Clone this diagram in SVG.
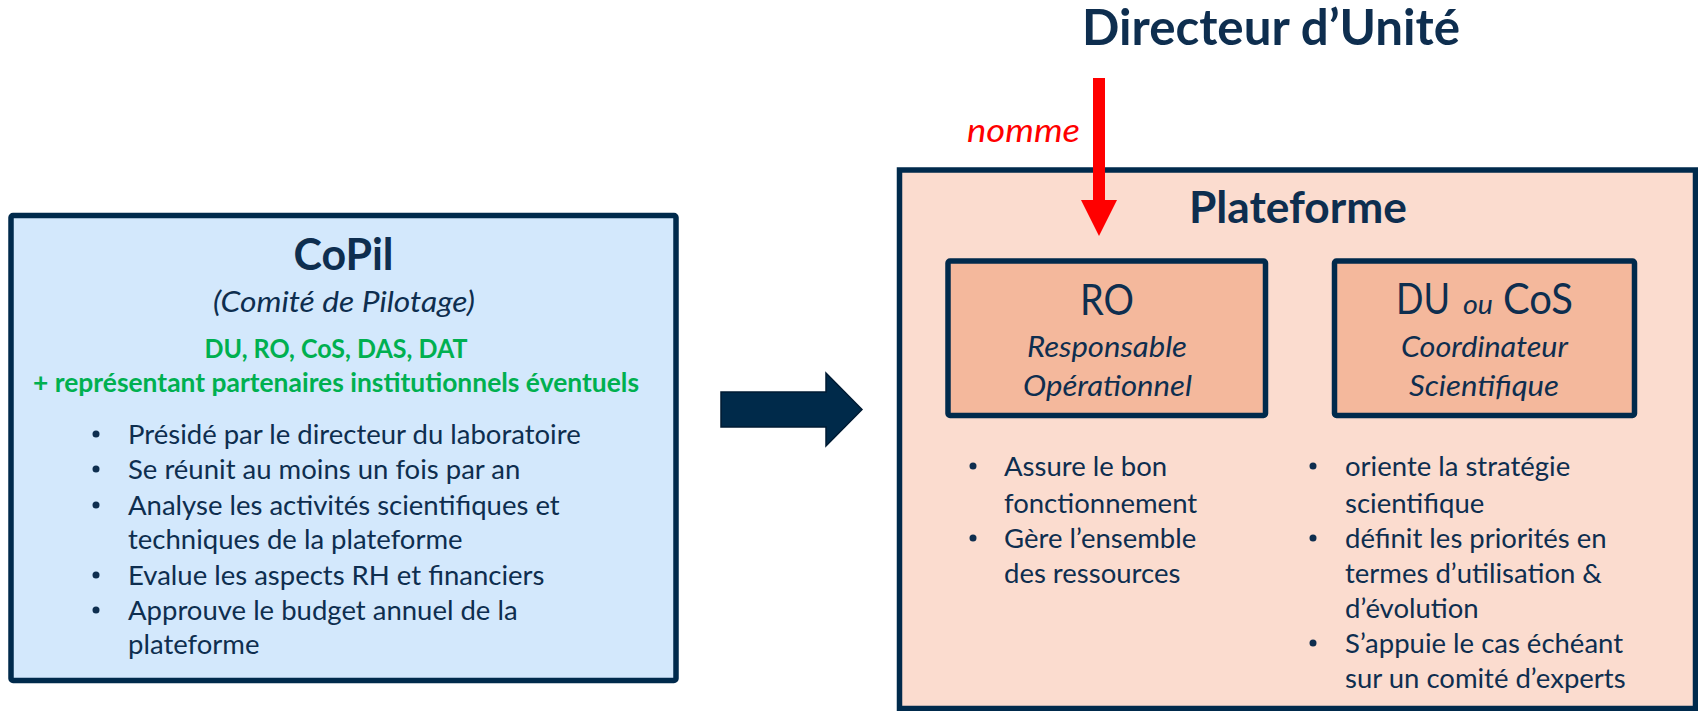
<svg xmlns="http://www.w3.org/2000/svg" width="1698" height="711" viewBox="0 0 1698 711">
<style>
text{font-family:Lato,"Open Sans","Liberation Sans",sans-serif;fill:#0E2E4F}
.b{font-weight:bold}
.i{font-style:italic}
.c{text-anchor:middle}
.g{fill:#00B050;font-weight:bold;font-size:26px}
.bl{font-size:27.5px}
.box{stroke:#002A4C;stroke-width:5.5}
.dot{fill:#0E2E4F}
</style>
<rect width="1698" height="711" fill="#FFFFFF"/>
<g id="directeur">
<text class="b c" x="1271" y="45" font-size="49" textLength="378" lengthAdjust="spacingAndGlyphs">Directeur d’Unité</text>
</g>
<g id="copil">
<rect class="box" x="11" y="215.5" width="665" height="465" rx="2" fill="#D3E8FC"/>
<text class="b c" x="343.5" y="270" font-size="44" textLength="100" lengthAdjust="spacingAndGlyphs">CoPil</text>
<text class="i c" x="344" y="312" font-size="29.5" textLength="262" lengthAdjust="spacingAndGlyphs">(Comité de Pilotage)</text>
<text class="g c" x="336" y="358" textLength="263" lengthAdjust="spacingAndGlyphs">DU, RO, CoS, DAS, DAT</text>
<text class="g c" x="336" y="392" textLength="606" lengthAdjust="spacingAndGlyphs">+ représentant partenaires institutionnels éventuels</text>
<circle class="dot" cx="96" cy="434" r="3.5"/>
<circle class="dot" cx="96" cy="469" r="3.5"/>
<circle class="dot" cx="96" cy="505" r="3.5"/>
<circle class="dot" cx="96" cy="575" r="3.5"/>
<circle class="dot" cx="96" cy="610" r="3.5"/>
<text class="bl" x="128" y="444">Présidé par le directeur du laboratoire</text>
<text class="bl" x="128" y="479">Se réunit au moins un fois par an</text>
<text class="bl" x="128" y="515">Analyse les activités scientifiques et</text>
<text class="bl" x="128" y="549">techniques de la plateforme</text>
<text class="bl" x="128" y="585">Evalue les aspects RH et financiers</text>
<text class="bl" x="128" y="620">Approuve le budget annuel de la</text>
<text class="bl" x="128" y="654">plateforme</text>
</g>
<g id="plateforme">
<rect class="box" x="899.5" y="170" width="796" height="538.5" fill="#FBDCCF"/>
<text class="b c" x="1298" y="223" font-size="43" textLength="218" lengthAdjust="spacingAndGlyphs">Plateforme</text>
</g>
<g id="ro">
<rect class="box" x="948" y="261" width="317.5" height="154.5" rx="2" stroke-width="6" fill="#F4B89C"/>
<text class="c" x="1107" y="315" font-size="42" textLength="54" lengthAdjust="spacingAndGlyphs">RO</text>
<text class="i c" x="1107" y="357" font-size="29.5" textLength="160" lengthAdjust="spacingAndGlyphs">Responsable</text>
<text class="i c" x="1107.5" y="396" font-size="29.5" textLength="169" lengthAdjust="spacingAndGlyphs">Opérationnel</text>
<circle class="dot" cx="973" cy="466" r="3.5"/>
<circle class="dot" cx="973" cy="538" r="3.5"/>
<text class="bl" x="1004" y="476">Assure le bon</text>
<text class="bl" x="1004" y="513">fonctionnement</text>
<text class="bl" x="1004" y="548">Gère l’ensemble</text>
<text class="bl" x="1004" y="583">des ressources</text>
</g>
<g id="du">
<rect class="box" x="1334.5" y="261" width="300" height="154.5" rx="2" stroke-width="6" fill="#F4B89C"/>
<text x="1396" y="314" font-size="42" textLength="54" lengthAdjust="spacingAndGlyphs">DU</text>
<text class="i" x="1463" y="314" font-size="27" textLength="30" lengthAdjust="spacingAndGlyphs">ou</text>
<text x="1503" y="314" font-size="42" textLength="70" lengthAdjust="spacingAndGlyphs">CoS</text>
<text class="i c" x="1484.5" y="357" font-size="29.5" textLength="167" lengthAdjust="spacingAndGlyphs">Coordinateur</text>
<text class="i c" x="1484" y="396" font-size="29.5" textLength="150" lengthAdjust="spacingAndGlyphs">Scientifique</text>
<circle class="dot" cx="1313" cy="466" r="3.5"/>
<circle class="dot" cx="1313" cy="538" r="3.5"/>
<circle class="dot" cx="1313" cy="643" r="3.5"/>
<text class="bl" x="1345" y="476">oriente la stratégie</text>
<text class="bl" x="1345" y="513">scientifique</text>
<text class="bl" x="1345" y="548">définit les priorités en</text>
<text class="bl" x="1345" y="583">termes d’utilisation &amp;</text>
<text class="bl" x="1345" y="618">d’évolution</text>
<text class="bl" x="1345" y="653">S’appuie le cas échéant</text>
<text class="bl" x="1345" y="688">sur un comité d’experts</text>
</g>
<g id="connectors">
<polygon points="721,392 826,392 826,373 862,409.5 826,446 826,427 721,427" fill="#002A4A" stroke="#001B33" stroke-width="1.5"/>
<line x1="1099" y1="78" x2="1099" y2="202" stroke="#FF0000" stroke-width="12"/>
<polygon points="1081,200 1117,200 1099,236" fill="#FF0000"/>
<text class="i" x="967" y="142" font-size="33" style="fill:#FF0000" textLength="113" lengthAdjust="spacingAndGlyphs">nomme</text>
</g>
</svg>
